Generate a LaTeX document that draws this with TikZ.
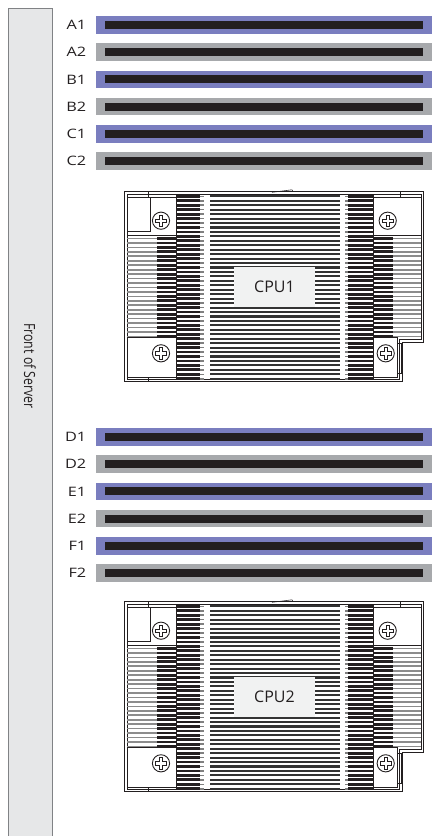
\documentclass[tikz,border=0pt]{standalone}
\usepackage{fontspec}
\setmainfont{Open Sans}
\definecolor{slotblue}{RGB}{122,126,191}
\definecolor{slotgray}{RGB}{167,169,172}
\definecolor{slotblack}{RGB}{35,31,32}
\definecolor{panelfill}{RGB}{230,231,232}
\definecolor{panelline}{RGB}{128,130,133}
\definecolor{labelfill}{RGB}{241,242,242}
\tikzset{
  slotbase/.style={draw=none, minimum width=336pt, minimum height=17.5pt, inner sep=0pt, outer sep=0pt, anchor=west},
  dimmblue/.style={slotbase, fill=slotblue},
  dimmgray/.style={slotbase, fill=slotgray},
  dimmbar/.style={draw=none, fill=slotblack, minimum width=318pt, minimum height=8pt, inner sep=0pt},
  slotlabel/.style={anchor=east, inner sep=0pt, xscale=1.25, font=\fontsize{13pt}{15pt}\selectfont, text=slotblack},
  panelbox/.style={fill=panelfill, draw=panelline, line width=0.9pt, minimum width=44.2pt, minimum height=832pt, inner sep=0pt},
  fronttext/.style={rotate=-90, yscale=1.25, inner sep=0pt, font=\fontsize{12.3pt}{14pt}\selectfont, text=slotblack},
  hsline/.style={draw=slotblack, line width=0.9pt},
  hsthin/.style={draw=slotblack, line width=0.55pt},
  finmid/.style={draw=black!80, line width=2.1pt},
  findark/.style={draw=slotblack, line width=2.8pt},
  fintick/.style={draw=black!50, line width=1.6pt},
  finlight/.style={draw=black!45, line width=1.7pt},
  cpulabel/.style={fill=labelfill, draw=none, minimum width=81pt, minimum height=40pt, inner sep=0pt, font=\fontsize{16pt}{18pt}\selectfont, text=slotblack},
  screw/.pic={
    \draw[draw=slotblack, fill=white, line width=0.9pt] (0,0) circle (8.6pt);
    \draw[draw=slotblack, line width=0.65pt] (-1.7,-5.6) -- (1.7,-5.6) -- (1.7,-1.7) -- (5.6,-1.7) -- (5.6,1.7) -- (1.7,1.7) -- (1.7,5.6) -- (-1.7,5.6) -- (-1.7,1.7) -- (-5.6,1.7) -- (-5.6,-1.7) -- (-1.7,-1.7) -- cycle;
  }
}
\newcommand\drawheatsink[2]{%
\begin{scope}[shift={(0,#1)}]
  \draw[hsline, fill=white] (124.3,191.7) -- (423.3,191.7) -- (423.3,342) -- (402,342) -- (402,381.7) -- (124.3,381.7) -- cycle;
  \draw[hsthin] (127.3,194.3) -- (421,194.3) -- (421,339.5) -- (399.5,339.5) -- (399.5,379.3) -- (127.3,379.3) -- cycle;
  \foreach \k in {0,...,41}{
    \pgfmathsetmacro\yy{196.3+\k*4.45}
    \draw[finmid] (210,\yy) -- (340,\yy);
    \draw[findark] (176,\yy) -- (200,\yy);
    \draw[findark] (348,\yy) -- (373,\yy);
    \draw[fintick] (200,\yy) -- (204,\yy);
    \draw[fintick] (345,\yy) -- (348,\yy);
  }
  \foreach \k in {0,...,22}{
    \pgfmathsetmacro\yy{238.5+\k*4.45}
    \draw[finlight] (127.3,\yy) -- (157,\yy);
    \draw[findark] (157,\yy) -- (176,\yy);
    \draw[findark] (373,\yy) -- (393,\yy);
    \draw[finlight] (393,\yy) -- (421,\yy);
  }
  \draw[hsthin] (176,194.3) -- (176,379.3);
  \draw[hsthin] (373,194.3) -- (373,379.3);
  % corner boxes
  \draw[hsthin, fill=white] (127.3,197) rectangle (176,235);
  \draw[hsthin] (150,197) -- (150,231.7) -- (127.3,231.7);
  \draw[hsthin, fill=white] (373,197) rectangle (421,235);
  \draw[hsthin, fill=white] (127.3,337) rectangle (176,377);
  \draw[hsthin, fill=white] (373,337) rectangle (397,377);
  \draw[hsthin] (397,343) rectangle (401.5,373);
  % small details
  \draw[hsthin] (148,191.7) -- (148,197);
  \draw[hsthin] (400,191.7) -- (400,197);
  \draw[hsthin] (272,192.3) -- (292,189.8) -- (293,191.7);
  \draw[hsthin] (148,377) -- (148,381.7);
  \draw[slotblack, line width=1.3pt] (183,381.4) -- (255,381.4);
  \pic at (161,220.7) {screw};
  \pic at (387.7,220.7) {screw};
  \pic at (161,353.3) {screw};
  \pic at (385.7,353.3) {screw};
  \node[cpulabel] (#2) at (274.5,287) {#2};
\end{scope}}
\begin{document}
\begin{tikzpicture}[x=1pt,y=-1pt]
\useasboundingbox (0,0) rectangle (432,836);
\fill[white] (0,0) rectangle (432,836);
\node[panelbox, anchor=north west] (panel) at (7.5,8.3) {};
\node[fronttext] (front) at (30,366) {Front of Server};
% DIMM slots
\foreach \nm/\yy/\sty in {A1/25/dimmblue, A2/52.2/dimmgray, B1/79.4/dimmblue, B2/106.6/dimmgray, C1/133.8/dimmblue, C2/161/dimmgray,
  D1/437/dimmblue, D2/464.2/dimmgray, E1/491.4/dimmblue, E2/518.6/dimmgray, F1/545.8/dimmblue, F2/573/dimmgray}{
  \node[\sty] (\nm) at (96,\yy) {};
  \node[dimmbar] (\nm bar) at (\nm.center) {};
  \node[slotlabel] (\nm lab) at (86.5,\yy) {\nm};
}
\drawheatsink{0}{CPU1}
\drawheatsink{410}{CPU2}
\end{tikzpicture}
\end{document}
